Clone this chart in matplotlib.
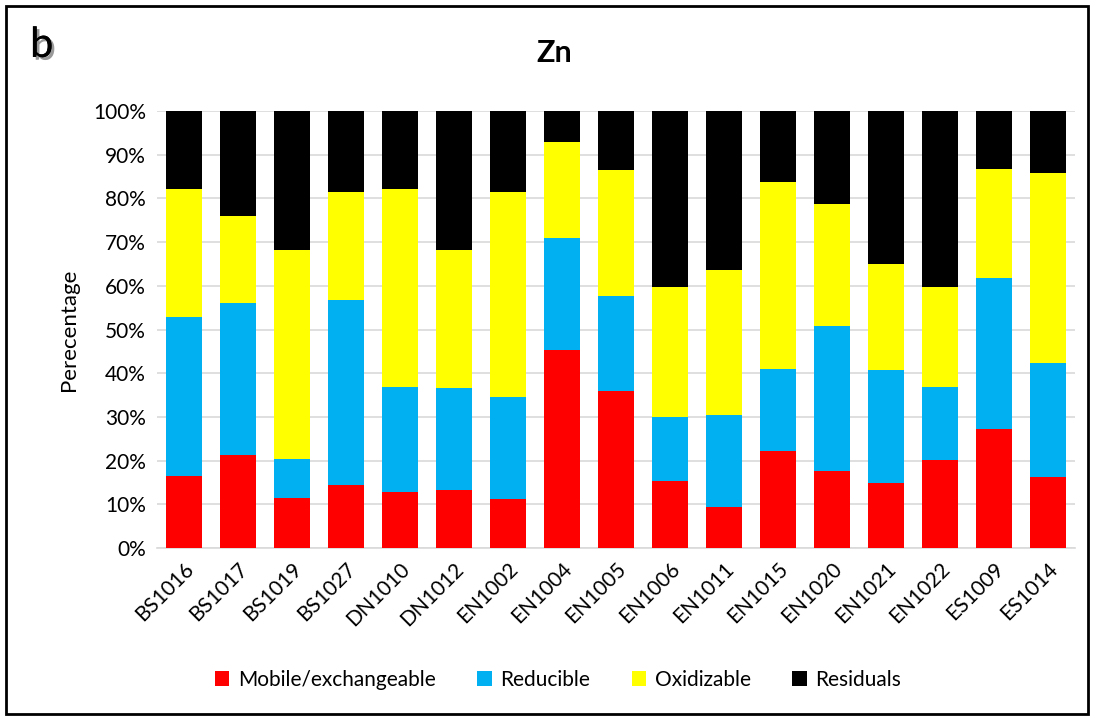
import matplotlib.pyplot as plt
import matplotlib.patheffects as pe
from matplotlib.patches import Rectangle
from matplotlib.ticker import PercentFormatter

plt.rcParams['font.family'] = ['Lato', 'DejaVu Sans']

samples = ['BS1016', 'BS1017', 'BS1019', 'BS1027', 'DN1010', 'DN1012', 'EN1002',
           'EN1004', 'EN1005', 'EN1006', 'EN1011', 'EN1015', 'EN1020', 'EN1021',
           'EN1022', 'ES1009', 'ES1014']
mobile = [16.5, 21.3, 11.4, 14.4, 12.8, 13.3, 11.2, 45.3, 35.9, 15.3, 9.4, 22.2, 17.6, 14.9, 20.1, 27.2, 16.2]
reducible = [36.4, 34.8, 9.0, 42.4, 24.0, 23.3, 23.4, 25.6, 21.8, 14.7, 21.0, 18.8, 33.2, 25.8, 16.7, 34.6, 26.1]
oxidizable = [29.3, 19.9, 47.8, 24.7, 45.4, 31.6, 46.9, 22.0, 28.8, 29.7, 33.2, 42.8, 27.9, 24.3, 22.9, 24.9, 43.5]
residuals = [100 - (m + r + o) for m, r, o in zip(mobile, reducible, oxidizable)]

labels = ['Mobile/exchangeable', 'Reducible', 'Oxidizable', 'Residuals']
colors = ['#ff0000', '#00b0f0', '#ffff00', '#000000']

fig = plt.figure(figsize=(11.01, 7.18), dpi=100)
ax = fig.add_axes([157 / 1101, 1 - 548 / 718, 918 / 1101, 437 / 718])

x = list(range(len(samples)))
bottom = [0] * len(samples)
for vals, lab, col in zip([mobile, reducible, oxidizable, residuals], labels, colors):
    ax.bar(x, vals, 0.65, bottom=bottom, color=col, label=lab, zorder=3)
    bottom = [b + v for b, v in zip(bottom, vals)]

ax.set_xlim(-0.5, len(samples) - 0.5)
ax.set_ylim(0, 100)
ax.set_yticks(range(0, 101, 10))
ax.yaxis.set_major_formatter(PercentFormatter(decimals=0))
ax.grid(axis='y', color='#d9d9d9', linewidth=1.2, zorder=0)
for s in ['top', 'right', 'left']:
    ax.spines[s].set_visible(False)
ax.spines['bottom'].set_color('#d9d9d9')
ax.spines['bottom'].set_linewidth(1.2)
ax.tick_params(length=0, labelsize=15, pad=8)
ax.set_xticks(x)
ax.set_xticklabels(samples, rotation=45, ha='right', rotation_mode='anchor')
ax.set_ylabel('Perecentage', fontsize=16, labelpad=10)

fig.text(554 / 1101, 1 - 53 / 718, 'Zn', ha='center', va='center', fontsize=22, fontweight='bold')
fig.text(30 / 1101, 1 - 45 / 718, 'b', ha='left', va='center', fontsize=30,
         path_effects=[pe.withSimplePatchShadow(offset=(2, -2), shadow_rgbFace='#999999', alpha=1), pe.Normal()])

fig.legend(loc='center', bbox_to_anchor=(558 / 1101, 1 - 680 / 718), ncol=4, frameon=False,
           fontsize=15, handlelength=0.7, handleheight=0.7, handletextpad=0.4, columnspacing=2.0)

fig.patches.append(Rectangle((6 / 1101, 4 / 718), 1082 / 1101, 708 / 718, transform=fig.transFigure,
                             fill=False, edgecolor='black', linewidth=2))

fig.savefig('out.png', dpi=100)
